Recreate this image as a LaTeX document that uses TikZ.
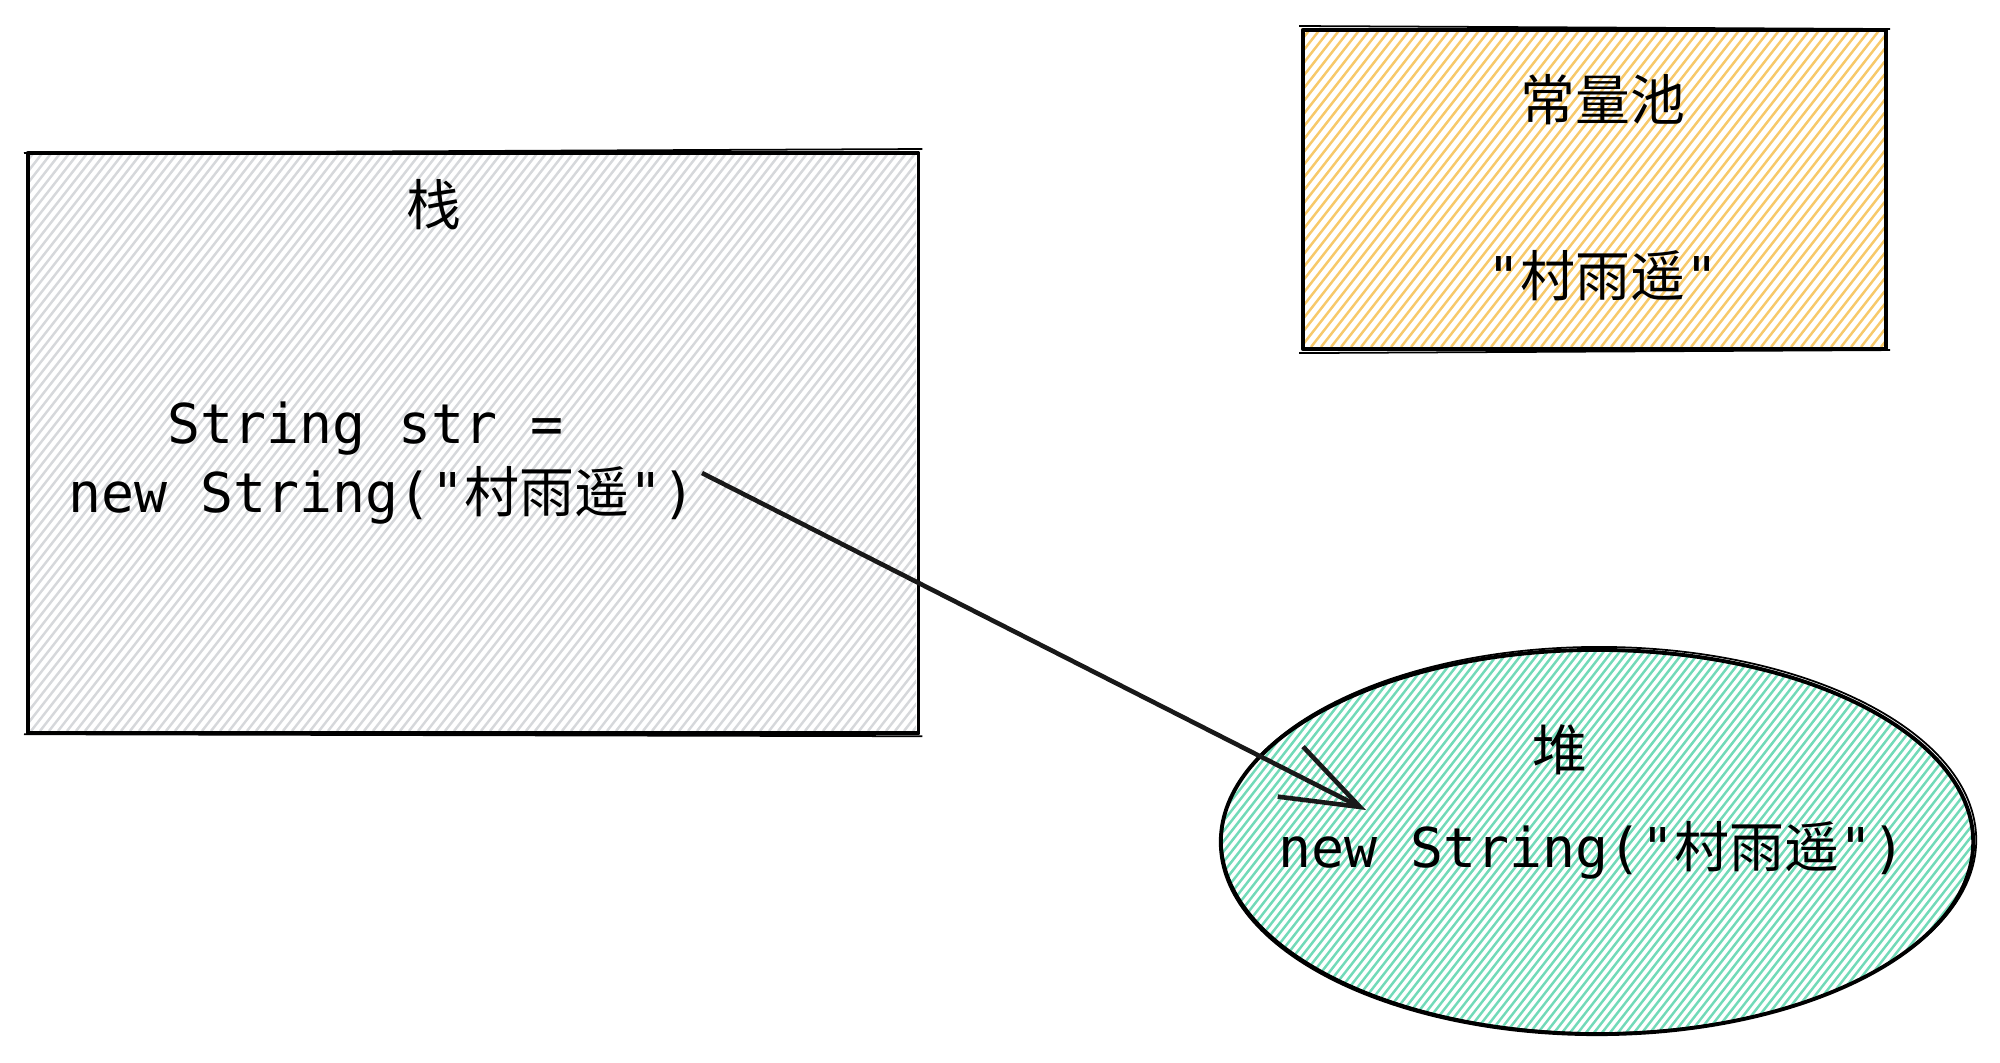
\documentclass[tikz,border=0pt]{standalone}
\usepackage{fontspec}
\setmonofont{DejaVu Sans Mono}
\newfontfamily\cjk{Noto Sans CJK SC}
\usetikzlibrary{arrows.meta,shapes.geometric}
\definecolor{hgray}{HTML}{D6D8DB}
\definecolor{hyellow}{HTML}{F7C96A}
\definecolor{hgreen}{HTML}{72DAB8}
\tikzset{
  box/.style={draw=black, line width=1.1pt, line join=round, inner sep=0pt},
  sketch/.style={draw=black, line width=0.5pt},
  lbl/.style={font=\fontsize{15.6}{19.5}\selectfont\cjk, inner sep=0pt},
  code/.style={font=\fontsize{15.6}{19.5}\selectfont\ttfamily, inner sep=0pt},
  hatch/.style={line width=0.7pt},
  link/.style={draw=black!90, line width=1.3pt, -{Straight Barb[length=7.8mm,width=5.6mm]}},
}
\begin{document}
\begin{tikzpicture}[x=0.01cm, y=-0.01cm]
\useasboundingbox (0,0) rectangle (2000,1062);
% hachure fills
\begin{scope}
  \clip (26,151) rectangle (916,731);
  \foreach \k in {0,...,152} \draw[hatch, hgray] ({-428+9*\k},731) -- ++(454,-580);
\end{scope}
\begin{scope}
  \clip (1301,28) rectangle (1884,347);
  \foreach \k in {0,...,86} \draw[hatch, hyellow] ({1051+10*\k},347) -- ++(250,-319);
\end{scope}
\begin{scope}
  \clip (1597,842) ellipse [x radius=3.76cm, y radius=1.92cm];
  \foreach \k in {0,...,134} \draw[hatch, hgreen] ({921+8*\k},1034) -- ++(300,-384);
\end{scope}
% shapes
\node[box, minimum width=8.90cm, minimum height=5.80cm, anchor=north west] (stack) at (26,151) {};
\draw[sketch] ([shift={(-2,2)}]stack.north west) -- ([shift={(2,-2)}]stack.north east);
\draw[sketch] ([shift={(-2,-1)}]stack.south west) -- ([shift={(2,1)}]stack.south east);
\node[box, minimum width=5.83cm, minimum height=3.19cm, anchor=north west] (pool) at (1301,28) {};
\draw[sketch] ([shift={(-2,-2)}]pool.north west) -- ([shift={(2,1)}]pool.north east);
\draw[sketch] ([shift={(-2,2)}]pool.south west) -- ([shift={(2,-1)}]pool.south east);
\node[box, ellipse, minimum width=7.52cm, minimum height=3.84cm] (heap) at (1597,842) {};
\draw[sketch] (1599,840) ellipse [x radius=3.77cm, y radius=1.93cm];
% labels
\node[lbl] (stackT) at (434,205) {栈};
\node[code, anchor=base west] (decl1) at (167,443) {String str =};
\node[code, anchor=base] (decl2) at (382,512) {new String("{\cjk 村雨遥}")};
\node[lbl] (poolT) at (1603,100) {常量池};
\node[code] (poolV) at (1603,276) {"{\cjk 村雨遥}"};
\node[lbl] (heapT) at (1560,750) {堆};
\node[code, anchor=base] (heapV) at (1592,867) {new String("{\cjk 村雨遥}")};
% connector
\coordinate (src) at (702,473);
\coordinate (dst) at (1366,810);
\draw[link] (src) -- (dst);
\end{tikzpicture}
\end{document}
